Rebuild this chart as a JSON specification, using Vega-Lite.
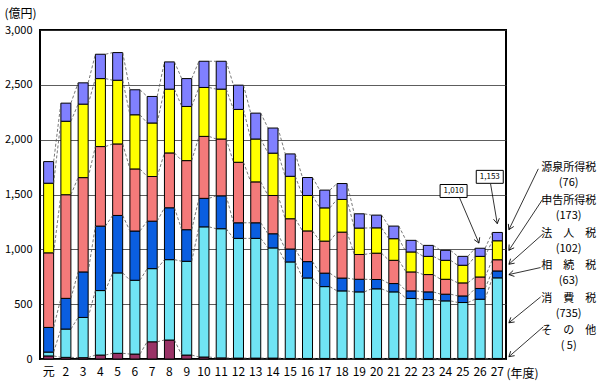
{
  "$schema": "https://vega.github.io/schema/vega-lite/v6.json",
  "width": 466,
  "height": 329,
  "autosize": {"type": "none"},
  "padding": {"left": 40, "top": 30, "right": 94, "bottom": 33},
  "background": "white",
  "config": {
    "font": "Noto Sans CJK JP",
    "view": {"stroke": "#000", "strokeWidth": 2},
    "axis": {"labelColor": "#000", "titleColor": "#000", "titleFontWeight": "normal"}
  },
  "datasets": {
    "tax": [
      {"n": 1, "その他": 28, "消費税": 35, "相続税": 225, "法人税": 680, "申告所得税": 635, "源泉所得税": 197},
      {"n": 2, "その他": 15, "消費税": 258, "相続税": 280, "法人税": 945, "申告所得税": 670, "源泉所得税": 165},
      {"n": 3, "その他": 12, "消費税": 367, "相続税": 415, "法人税": 860, "申告所得税": 670, "源泉所得税": 194},
      {"n": 4, "その他": 36, "消費税": 588, "相続税": 588, "法人税": 725, "申告所得税": 620, "源泉所得税": 222},
      {"n": 5, "その他": 52, "消費税": 733, "相続税": 524, "法人税": 652, "申告所得税": 581, "源泉所得税": 252},
      {"n": 6, "その他": 45, "消費税": 673, "相続税": 449, "法人税": 566, "申告所得税": 494, "源泉所得税": 228},
      {"n": 7, "その他": 157, "消費税": 667, "相続税": 433, "法人税": 407, "申告所得税": 488, "源泉所得税": 242},
      {"n": 8, "その他": 173, "消費税": 733, "相続税": 473, "法人税": 500, "申告所得税": 582, "源泉所得税": 248},
      {"n": 9, "その他": 36, "消費税": 855, "相続税": 288, "法人税": 630, "申告所得税": 494, "源泉所得税": 254},
      {"n": 10, "その他": 18, "消費税": 1187, "相続税": 260, "法人税": 565, "申告所得税": 446, "源泉所得税": 239},
      {"n": 11, "その他": 10, "消費税": 1178, "相続税": 300, "法人税": 518, "申告所得税": 455, "源泉所得税": 254},
      {"n": 12, "その他": 8, "消費税": 1092, "相続税": 142, "法人税": 552, "申告所得税": 482, "源泉所得税": 221},
      {"n": 13, "その他": 8, "消費税": 1092, "相続税": 142, "法人税": 373, "申告所得税": 391, "源泉所得税": 236},
      {"n": 14, "その他": 8, "消費税": 1005, "相続税": 129, "法人税": 349, "申告所得税": 386, "源泉所得税": 229},
      {"n": 15, "その他": 5, "消費税": 880, "相続税": 118, "法人税": 276, "申告所得税": 387, "源泉所得税": 204},
      {"n": 16, "その他": 5, "消費税": 734, "相続税": 149, "法人税": 280, "申告所得税": 323, "源泉所得税": 164},
      {"n": 17, "その他": 5, "消費税": 655, "相続税": 123, "法人税": 292, "申告所得税": 303, "源泉所得税": 162},
      {"n": 18, "その他": 5, "消費税": 616, "相続税": 117, "法人税": 419, "申告所得税": 298, "源泉所得税": 145},
      {"n": 19, "その他": 5, "消費税": 607, "相続税": 115, "法人税": 226, "申告所得税": 241, "源泉所得税": 130},
      {"n": 20, "その他": 5, "消費税": 635, "相続税": 85, "法人税": 240, "申告所得税": 231, "源泉所得税": 116},
      {"n": 21, "その他": 5, "消費税": 607, "相続税": 76, "法人税": 212, "申告所得税": 197, "源泉所得税": 115},
      {"n": 22, "その他": 5, "消費税": 547, "相続税": 69, "法人税": 173, "申告所得税": 182, "源泉所得税": 106},
      {"n": 23, "その他": 5, "消費税": 537, "相続税": 70, "法人税": 158, "申告所得税": 166, "源泉所得税": 100},
      {"n": 24, "その他": 5, "消費税": 525, "相続税": 61, "法人税": 136, "申告所得税": 173, "源泉所得税": 91},
      {"n": 25, "その他": 5, "消費税": 510, "相続税": 60, "法人税": 119, "申告所得税": 161, "源泉所得税": 81},
      {"n": 26, "その他": 5, "消費税": 540, "相続税": 98, "法人税": 105, "申告所得税": 188, "源泉所得税": 74},
      {"n": 27, "その他": 5, "消費税": 735, "相続税": 63, "法人税": 102, "申告所得税": 173, "源泉所得税": 76}
    ]
  },
  "layer": [
    {
      "data": {"name": "tax"},
      "transform": [
        {"fold": ["その他", "消費税", "相続税", "法人税", "申告所得税", "源泉所得税"], "as": ["cat", "value"]},
        {"stack": "value", "groupby": ["n"], "as": ["v0", "v1"]}
      ],
      "mark": {"type": "bar", "stroke": "#000", "strokeWidth": 1},
      "encoding": {
        "x": {
          "field": "n", "type": "ordinal",
          "scale": {"paddingInner": 0.42, "paddingOuter": 0.21},
          "axis": {
            "title": "(年度)", "titleAlign": "left", "titleAnchor": "start", "titleX": 466, "titleY": 14,
            "titleBaseline": "middle", "titleFontSize": 12,
            "labelExpr": "datum.value == 1 ? '元' : datum.value",
            "labelAngle": 0, "ticks": false, "domain": false, "labelFontSize": 12, "labelPadding": 7
          }
        },
        "y": {
          "field": "v1", "type": "quantitative",
          "scale": {"domain": [0, 3000], "nice": false},
          "axis": {
            "title": "(億円)", "titleAngle": 0, "titleAlign": "left", "titleAnchor": "end", "titleX": -36, "titleY": -17,
            "titleBaseline": "middle", "titleFontSize": 12,
            "values": [0, 500, 1000, 1500, 2000, 2500, 3000], "format": ",d",
            "grid": true, "gridColor": "#333", "gridWidth": 0.8,
            "ticks": false, "domain": false, "labelFontSize": 11, "labelPadding": 8
          }
        },
        "y2": {"field": "v0"},
        "color": {
          "field": "cat", "type": "nominal", "legend": null,
          "scale": {
            "domain": ["その他", "消費税", "相続税", "法人税", "申告所得税", "源泉所得税"],
            "range": ["#993366", "#70e4f4", "#0a5ee0", "#f47a7a", "#ffff00", "#8080ff"]
          }
        }
      }
    },
    {
      "data": {"name": "tax"},
      "transform": [
        {"fold": ["その他", "消費税", "相続税", "法人税", "申告所得税", "源泉所得税"], "as": ["cat", "value"]},
        {"stack": "value", "groupby": ["n"], "as": ["v0", "v1"]},
        {"window": [{"op": "lead", "field": "v1", "as": "nv1"}, {"op": "lead", "field": "n", "as": "nn"}], "groupby": ["cat"], "sort": [{"field": "n", "order": "ascending"}]},
        {"filter": "datum.nn != null"}
      ],
      "mark": {"type": "rule", "strokeDash": [3, 2], "color": "#555", "strokeWidth": 0.8},
      "encoding": {
        "x": {"field": "n", "type": "ordinal", "bandPosition": 1},
        "x2": {"field": "nn", "bandPosition": 0},
        "y": {"field": "v1", "type": "quantitative"},
        "y2": {"field": "nv1"}
      }
    },
    {"data": {"values": [{}]}, "mark": {"type": "text", "text": ["源泉所得税", "(76)"], "lineHeight": 15, "fontSize": 11, "align": "center", "baseline": "middle"}, "encoding": {"x": {"datum": 27, "type": "ordinal", "bandPosition": 7.62}, "y": {"datum": 1741, "type": "quantitative"}}},
    {"data": {"values": [{}]}, "mark": {"type": "text", "text": ["申告所得税", "(173)"], "lineHeight": 15, "fontSize": 11, "align": "center", "baseline": "middle"}, "encoding": {"x": {"datum": 27, "type": "ordinal", "bandPosition": 7.62}, "y": {"datum": 1445, "type": "quantitative"}}},
    {"data": {"values": [{}]}, "mark": {"type": "text", "text": ["法　人　税", "(102)"], "lineHeight": 15, "fontSize": 11, "align": "center", "baseline": "middle"}, "encoding": {"x": {"datum": 27, "type": "ordinal", "bandPosition": 7.62}, "y": {"datum": 1141, "type": "quantitative"}}},
    {"data": {"values": [{}]}, "mark": {"type": "text", "text": ["相　続　税", "(63)"], "lineHeight": 15, "fontSize": 11, "align": "center", "baseline": "middle"}, "encoding": {"x": {"datum": 27, "type": "ordinal", "bandPosition": 7.62}, "y": {"datum": 850, "type": "quantitative"}}},
    {"data": {"values": [{}]}, "mark": {"type": "text", "text": ["消　費　税", "(735)"], "lineHeight": 15, "fontSize": 11, "align": "center", "baseline": "middle"}, "encoding": {"x": {"datum": 27, "type": "ordinal", "bandPosition": 7.62}, "y": {"datum": 550, "type": "quantitative"}}},
    {"data": {"values": [{}]}, "mark": {"type": "text", "text": ["そ　の　他", "( 5)"], "lineHeight": 15, "fontSize": 11, "align": "center", "baseline": "middle"}, "encoding": {"x": {"datum": 27, "type": "ordinal", "bandPosition": 7.62}, "y": {"datum": 259, "type": "quantitative"}}},
    {"data": {"values": [{}]}, "mark": {"type": "rule", "color": "#000", "strokeWidth": 0.8}, "encoding": {"x": {"datum": 27, "type": "ordinal", "bandPosition": 4.59}, "x2": {"datum": 27, "bandPosition": 1.65}, "y": {"datum": 1734, "type": "quantitative"}, "y2": {"datum": 1179}}},
    {"data": {"values": [{}]}, "mark": {"type": "rule", "color": "#000", "strokeWidth": 0.8}, "encoding": {"x": {"datum": 27, "type": "ordinal", "bandPosition": 4.99}, "x2": {"datum": 27, "bandPosition": 1.65}, "y": {"datum": 1452, "type": "quantitative"}, "y2": {"datum": 991}}},
    {"data": {"values": [{}]}, "mark": {"type": "rule", "color": "#000", "strokeWidth": 0.8}, "encoding": {"x": {"datum": 27, "type": "ordinal", "bandPosition": 5.09}, "x2": {"datum": 27, "bandPosition": 1.65}, "y": {"datum": 1143, "type": "quantitative"}, "y2": {"datum": 864}}},
    {"data": {"values": [{}]}, "mark": {"type": "rule", "color": "#000", "strokeWidth": 0.8}, "encoding": {"x": {"datum": 27, "type": "ordinal", "bandPosition": 4.82}, "x2": {"datum": 27, "bandPosition": 1.65}, "y": {"datum": 834, "type": "quantitative"}, "y2": {"datum": 770}}},
    {"data": {"values": [{}]}, "mark": {"type": "rule", "color": "#000", "strokeWidth": 0.8}, "encoding": {"x": {"datum": 27, "type": "ordinal", "bandPosition": 4.82}, "x2": {"datum": 27, "bandPosition": 1.65}, "y": {"datum": 566, "type": "quantitative"}, "y2": {"datum": 330}}},
    {"data": {"values": [{}]}, "mark": {"type": "rule", "color": "#000", "strokeWidth": 0.8}, "encoding": {"x": {"datum": 27, "type": "ordinal", "bandPosition": 5.09}, "x2": {"datum": 27, "bandPosition": 1.65}, "y": {"datum": 294, "type": "quantitative"}, "y2": {"datum": 21}}},
    {"data": {"values": [{}]}, "mark": {"type": "point", "shape": "M-0.6,-1L0,0L0.6,-1", "filled": false, "stroke": "#000", "strokeWidth": 0.8, "size": 100, "angle": 25.7, "opacity": 1}, "encoding": {"x": {"datum": 27, "type": "ordinal", "bandPosition": 1.65}, "y": {"datum": 1179, "type": "quantitative"}}},
    {"data": {"values": [{}]}, "mark": {"type": "point", "shape": "M-0.6,-1L0,0L0.6,-1", "filled": false, "stroke": "#000", "strokeWidth": 0.8, "size": 100, "angle": 33.4, "opacity": 1}, "encoding": {"x": {"datum": 27, "type": "ordinal", "bandPosition": 1.65}, "y": {"datum": 991, "type": "quantitative"}}},
    {"data": {"values": [{}]}, "mark": {"type": "point", "shape": "M-0.6,-1L0,0L0.6,-1", "filled": false, "stroke": "#000", "strokeWidth": 0.8, "size": 100, "angle": 48.3, "opacity": 1}, "encoding": {"x": {"datum": 27, "type": "ordinal", "bandPosition": 1.65}, "y": {"datum": 864, "type": "quantitative"}}},
    {"data": {"values": [{}]}, "mark": {"type": "point", "shape": "M-0.6,-1L0,0L0.6,-1", "filled": false, "stroke": "#000", "strokeWidth": 0.8, "size": 100, "angle": 77.5, "opacity": 1}, "encoding": {"x": {"datum": 27, "type": "ordinal", "bandPosition": 1.65}, "y": {"datum": 770, "type": "quantitative"}}},
    {"data": {"values": [{}]}, "mark": {"type": "point", "shape": "M-0.6,-1L0,0L0.6,-1", "filled": false, "stroke": "#000", "strokeWidth": 0.8, "size": 100, "angle": 50.6, "opacity": 1}, "encoding": {"x": {"datum": 27, "type": "ordinal", "bandPosition": 1.65}, "y": {"datum": 330, "type": "quantitative"}}},
    {"data": {"values": [{}]}, "mark": {"type": "point", "shape": "M-0.6,-1L0,0L0.6,-1", "filled": false, "stroke": "#000", "strokeWidth": 0.8, "size": 100, "angle": 48.9, "opacity": 1}, "encoding": {"x": {"datum": 27, "type": "ordinal", "bandPosition": 1.65}, "y": {"datum": 21, "type": "quantitative"}}},
    {"data": {"values": [{}]}, "mark": {"type": "rule", "color": "#000", "strokeWidth": 0.8}, "encoding": {"x": {"datum": 26, "type": "ordinal", "bandPosition": -1.55}, "x2": {"datum": 26, "bandPosition": 0.38}, "y": {"datum": 1470, "type": "quantitative"}, "y2": {"datum": 1057}}},
    {"data": {"values": [{}]}, "mark": {"type": "rule", "color": "#000", "strokeWidth": 0.8}, "encoding": {"x": {"datum": 27, "type": "ordinal", "bandPosition": -0.18}, "x2": {"datum": 27, "bandPosition": 0.49}, "y": {"datum": 1597, "type": "quantitative"}, "y2": {"datum": 1234}}},
    {"data": {"values": [{}]}, "mark": {"type": "point", "shape": "M-0.6,-1L0,0L0.6,-1", "filled": false, "stroke": "#000", "strokeWidth": 0.8, "size": 100, "angle": -23, "opacity": 1}, "encoding": {"x": {"datum": 26, "type": "ordinal", "bandPosition": 0.38}, "y": {"datum": 1057, "type": "quantitative"}}},
    {"data": {"values": [{}]}, "mark": {"type": "point", "shape": "M-0.6,-1L0,0L0.6,-1", "filled": false, "stroke": "#000", "strokeWidth": 0.8, "size": 100, "angle": -9.5, "opacity": 1}, "encoding": {"x": {"datum": 27, "type": "ordinal", "bandPosition": 0.49}, "y": {"datum": 1234, "type": "quantitative"}}},
    {"data": {"values": [{}]}, "mark": {"type": "point", "shape": "M-1,-0.48H1V0.48H-1Z", "filled": true, "fill": "#fff", "stroke": "#000", "strokeWidth": 1, "size": 729, "opacity": 1}, "encoding": {"x": {"datum": 26, "type": "ordinal", "bandPosition": -2.15}, "y": {"datum": 1532, "type": "quantitative"}}},
    {"data": {"values": [{}]}, "mark": {"type": "point", "shape": "M-1,-0.48H1V0.48H-1Z", "filled": true, "fill": "#fff", "stroke": "#000", "strokeWidth": 1, "size": 729, "opacity": 1}, "encoding": {"x": {"datum": 27, "type": "ordinal", "bandPosition": -0.26}, "y": {"datum": 1661, "type": "quantitative"}}},
    {"data": {"values": [{}]}, "mark": {"type": "text", "text": "1,010", "fontSize": 8, "align": "center", "baseline": "middle"}, "encoding": {"x": {"datum": 26, "type": "ordinal", "bandPosition": -2.15}, "y": {"datum": 1532, "type": "quantitative"}}},
    {"data": {"values": [{}]}, "mark": {"type": "text", "text": "1,153", "fontSize": 8, "align": "center", "baseline": "middle"}, "encoding": {"x": {"datum": 27, "type": "ordinal", "bandPosition": -0.26}, "y": {"datum": 1661, "type": "quantitative"}}}
  ]
}
